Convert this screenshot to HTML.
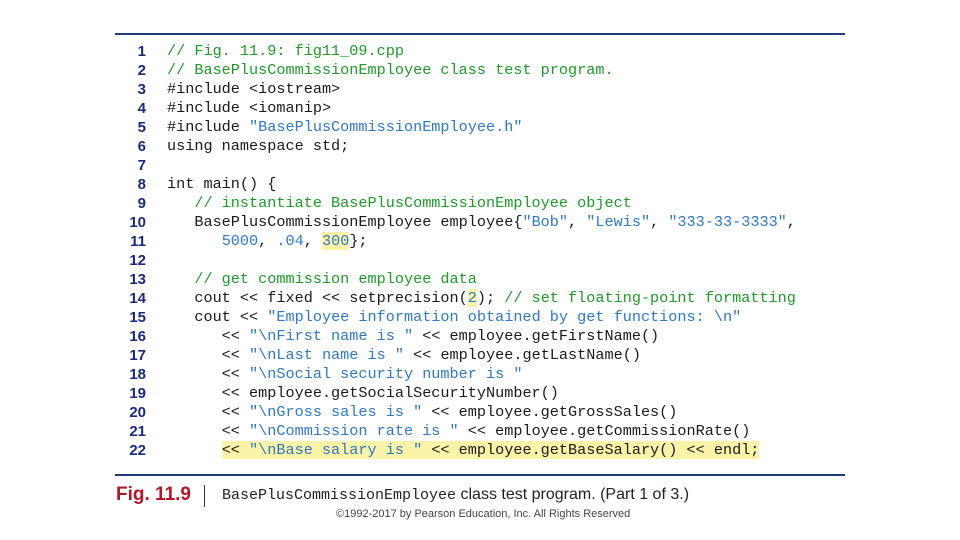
<!DOCTYPE html>
<html><head><meta charset="utf-8"><style>
body{margin:0;width:960px;height:540px;background:#fff;position:relative;overflow:hidden}
.rule{position:absolute;left:115px;width:730px;height:2px;background:#1e3a78}
pre{position:absolute;margin:0;font-family:"Liberation Mono",monospace;font-size:15.2px;line-height:19px;color:#1a1a1a}
#nums{left:118px;top:42px;width:28px;text-align:right;font-family:"Liberation Sans",sans-serif;font-weight:bold;color:#1a2a7a;font-size:15px}
#code{left:167px;top:42px}
.c{color:#1f9a28}.s{color:#2f78c4}.h{background:#fbf3a8}
</style></head><body>
<div class="rule" style="top:33px"></div>
<pre id="nums">1
2
3
4
5
6
7
8
9
10
11
12
13
14
15
16
17
18
19
20
21
22</pre>
<pre id="code"><span class="c">// Fig. 11.9: fig11_09.cpp</span>
<span class="c">// BasePlusCommissionEmployee class test program.</span>
#include &lt;iostream&gt;
#include &lt;iomanip&gt;
#include <span class="s">"BasePlusCommissionEmployee.h"</span>
using namespace std;

int main() {
   <span class="c">// instantiate BasePlusCommissionEmployee object</span>
   BasePlusCommissionEmployee employee{<span class="s">"Bob"</span>, <span class="s">"Lewis"</span>, <span class="s">"333-33-3333"</span>,
      <span class="s">5000</span>, <span class="s">.04</span>, <span class="s h">300</span>};

   <span class="c">// get commission employee data</span>
   cout &lt;&lt; fixed &lt;&lt; setprecision(<span class="s h">2</span>); <span class="c">// set floating-point formatting</span>
   cout &lt;&lt; <span class="s">"Employee information obtained by get functions: \n"</span>
      &lt;&lt; <span class="s">"\nFirst name is "</span> &lt;&lt; employee.getFirstName()
      &lt;&lt; <span class="s">"\nLast name is "</span> &lt;&lt; employee.getLastName()
      &lt;&lt; <span class="s">"\nSocial security number is "</span>
      &lt;&lt; employee.getSocialSecurityNumber()
      &lt;&lt; <span class="s">"\nGross sales is "</span> &lt;&lt; employee.getGrossSales()
      &lt;&lt; <span class="s">"\nCommission rate is "</span> &lt;&lt; employee.getCommissionRate()
      <span class="h">&lt;&lt; <span class="s">"\nBase salary is "</span> &lt;&lt; employee.getBaseSalary() &lt;&lt; endl;</span></pre>
<div class="rule" style="top:474px"></div>
<div style="position:absolute;left:116px;top:484px;font-family:'Liberation Sans',sans-serif;font-weight:bold;font-size:19px;color:#b0182a">Fig. 11.9</div>
<div style="position:absolute;left:204px;top:485px;width:1px;height:22px;background:#333"></div>
<div style="position:absolute;left:222px;top:486px;font-size:16px;color:#222;font-family:'Liberation Sans',sans-serif"><span style="font-family:'Liberation Mono',monospace;font-size:15px">BasePlusCommissionEmployee</span> class test program. (Part 1 of 3.)</div>
<div style="position:absolute;left:336px;top:508px;font-size:11px;color:#444;font-family:'Liberation Sans',sans-serif">©1992-2017 by Pearson Education, Inc. All Rights Reserved</div>
</body></html>
